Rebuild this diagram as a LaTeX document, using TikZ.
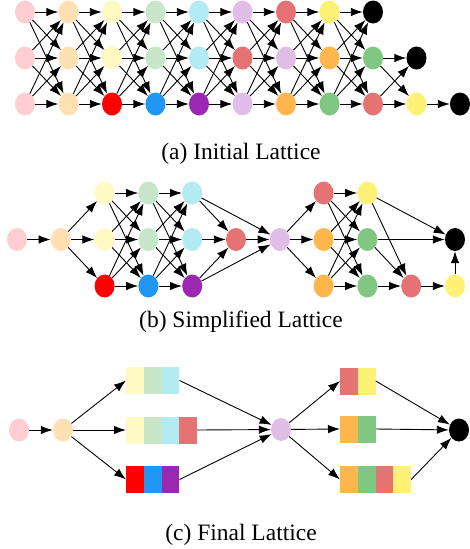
\documentclass[tikz,border=0pt]{standalone}
\usepackage{fontspec}
\setmainfont{Liberation Serif}
\usetikzlibrary{matrix,shapes.geometric,arrows.meta}

\definecolor{pk}{HTML}{FFCDD2}
\definecolor{pc}{HTML}{FFE0B2}
\definecolor{ly}{HTML}{FFF9C4}
\definecolor{lg}{HTML}{C8E6C9}
\definecolor{lc}{HTML}{B2EBF2}
\definecolor{lv}{HTML}{E1BEE7}
\definecolor{rs}{HTML}{E57373}
\definecolor{yl}{HTML}{FFF176}
\definecolor{og}{HTML}{FFB74D}
\definecolor{gn}{HTML}{81C784}
\definecolor{rd}{HTML}{FF0000}
\definecolor{bl}{HTML}{2196F3}
\definecolor{pp}{HTML}{9C27B0}
\definecolor{bk}{HTML}{000000}

\newcommand{\latbox}[1]{\textcolor{#1}{\rule{17.7pt}{27pt}}}

\tikzset{
  dot/.style={ellipse, minimum width=20pt, minimum height=23pt, inner sep=0pt},
  lat/.style={matrix of nodes, nodes={dot}, column sep=23.5pt, row sep=23pt},
  box/.style={anchor=west, inner sep=0pt},
  edge/.style={-{Latex[length=12pt,width=8.5pt]}, line width=0.9pt},
  caption/.style={anchor=base, font=\fontsize{23.5}{28}\selectfont},
}

\begin{document}
\begin{tikzpicture}[x=1pt,y=-1pt]
\useasboundingbox (0,0) rectangle (469,549);

% (a) initial lattice
\matrix (a) [lat] at (242.5,58)
{
  |[fill=pk]| & |[fill=pc]| & |[fill=ly]| & |[fill=lg]| & |[fill=lc]| & |[fill=lv]| & |[fill=rs]| & |[fill=yl]| & |[fill=bk]| \\
  |[fill=pk]| & |[fill=pc]| & |[fill=ly]| & |[fill=lg]| & |[fill=lc]| & |[fill=rs]| & |[fill=lv]| & |[fill=og]| & |[fill=gn]| & |[fill=bk]| \\
  |[fill=pk]| & |[fill=pc]| & |[fill=rd]| & |[fill=bl]| & |[fill=pp]| & |[fill=lv]| & |[fill=og]| & |[fill=gn]| & |[fill=rs]| & |[fill=yl]| & |[fill=bk]| \\
};
\foreach \c [count=\d from 2] in {1,...,8}
  \foreach \r in {1,2,3}
    \foreach \s in {1,2,3}
      \draw[edge] (a-\r-\c) -- (a-\s-\d);
\foreach \r in {2,3}
  \foreach \s in {2,3}
    \draw[edge] (a-\r-9) -- (a-\s-10);
\draw[edge] (a-3-10) -- (a-3-11);
\node[caption] (capa) at (241,159) {(a) Initial Lattice};

% (b) simplified lattice
\matrix (b) [lat, column sep=23.8pt, row sep=23.5pt] at (236,239.5)
{
  & & |[fill=ly]| & |[fill=lg]| & |[fill=lc]| & & & |[fill=rs]| & |[fill=yl]| \\
  |[fill=pk]| & |[fill=pc]| & |[fill=ly]| & |[fill=lg]| & |[fill=lc]| & |[fill=rs]| & |[fill=lv]| & |[fill=og]| & |[fill=gn]| & & |[fill=bk]| \\
  & & |[fill=rd]| & |[fill=bl]| & |[fill=pp]| & & & |[fill=og]| & |[fill=gn]| & |[fill=rs]| & |[fill=yl]| \\
};
\draw[edge] (b-2-1) -- (b-2-2);
\foreach \s in {1,2,3}
  \draw[edge] (b-2-2) -- (b-\s-3);
\foreach \c/\d in {3/4,4/5,8/9}
  \foreach \r in {1,2,3}
    \foreach \s in {1,2,3}
      \draw[edge] (b-\r-\c) -- (b-\s-\d);
\foreach \r in {1,2,3}
  \draw[edge] (b-\r-5) -- (b-2-6);
\foreach \r in {1,3}
  \draw[edge] (b-\r-5) -- (b-2-7);
\draw[edge] (b-2-6) -- (b-2-7);
\foreach \s in {1,2,3}
  \draw[edge] (b-2-7) -- (b-\s-8);
\foreach \r in {1,2}
  \draw[edge] (b-\r-9) -- (b-2-11);
\foreach \r in {1,2,3}
  \draw[edge] (b-\r-9) -- (b-3-10);
\draw[edge] (b-3-10) -- (b-3-11);
\draw[edge] (b-3-11) -- (b-2-11);
\node[caption] (capb) at (241,327) {(b) Simplified Lattice};

% (c) final lattice
\node[dot, fill=pk] (cp) at (19,430) {};
\node[dot, fill=pc] (cq) at (63,430) {};
\node[box] (t1) at (126,380.5) {\latbox{ly}\latbox{lg}\latbox{lc}};
\node[box] (t2) at (126,430) {\latbox{ly}\latbox{lg}\latbox{lc}\latbox{rs}};
\node[box] (t3) at (126,479.5) {\latbox{rd}\latbox{bl}\latbox{pp}};
\node[dot, fill=lv] (cv) at (281,429.5) {};
\node[box] (u1) at (340,381) {\latbox{rs}\latbox{yl}};
\node[box] (u2) at (340,429) {\latbox{og}\latbox{gn}};
\node[box] (u3) at (340,479.5) {\latbox{og}\latbox{gn}\latbox{rs}\latbox{yl}};
\node[dot, fill=bk] (ck) at (459,430) {};
\draw[edge] (cp) -- (cq);
\foreach \t in {t1,t2,t3} {
  \draw[edge] (cq) -- (\t.west);
  \draw[edge] (\t.east) -- (cv);
}
\foreach \u in {u1,u2,u3} {
  \draw[edge] (cv) -- (\u.west);
  \draw[edge] (\u.east) -- (ck);
}
\node[caption] (capc) at (241,540) {(c) Final Lattice};
\end{tikzpicture}
\end{document}
